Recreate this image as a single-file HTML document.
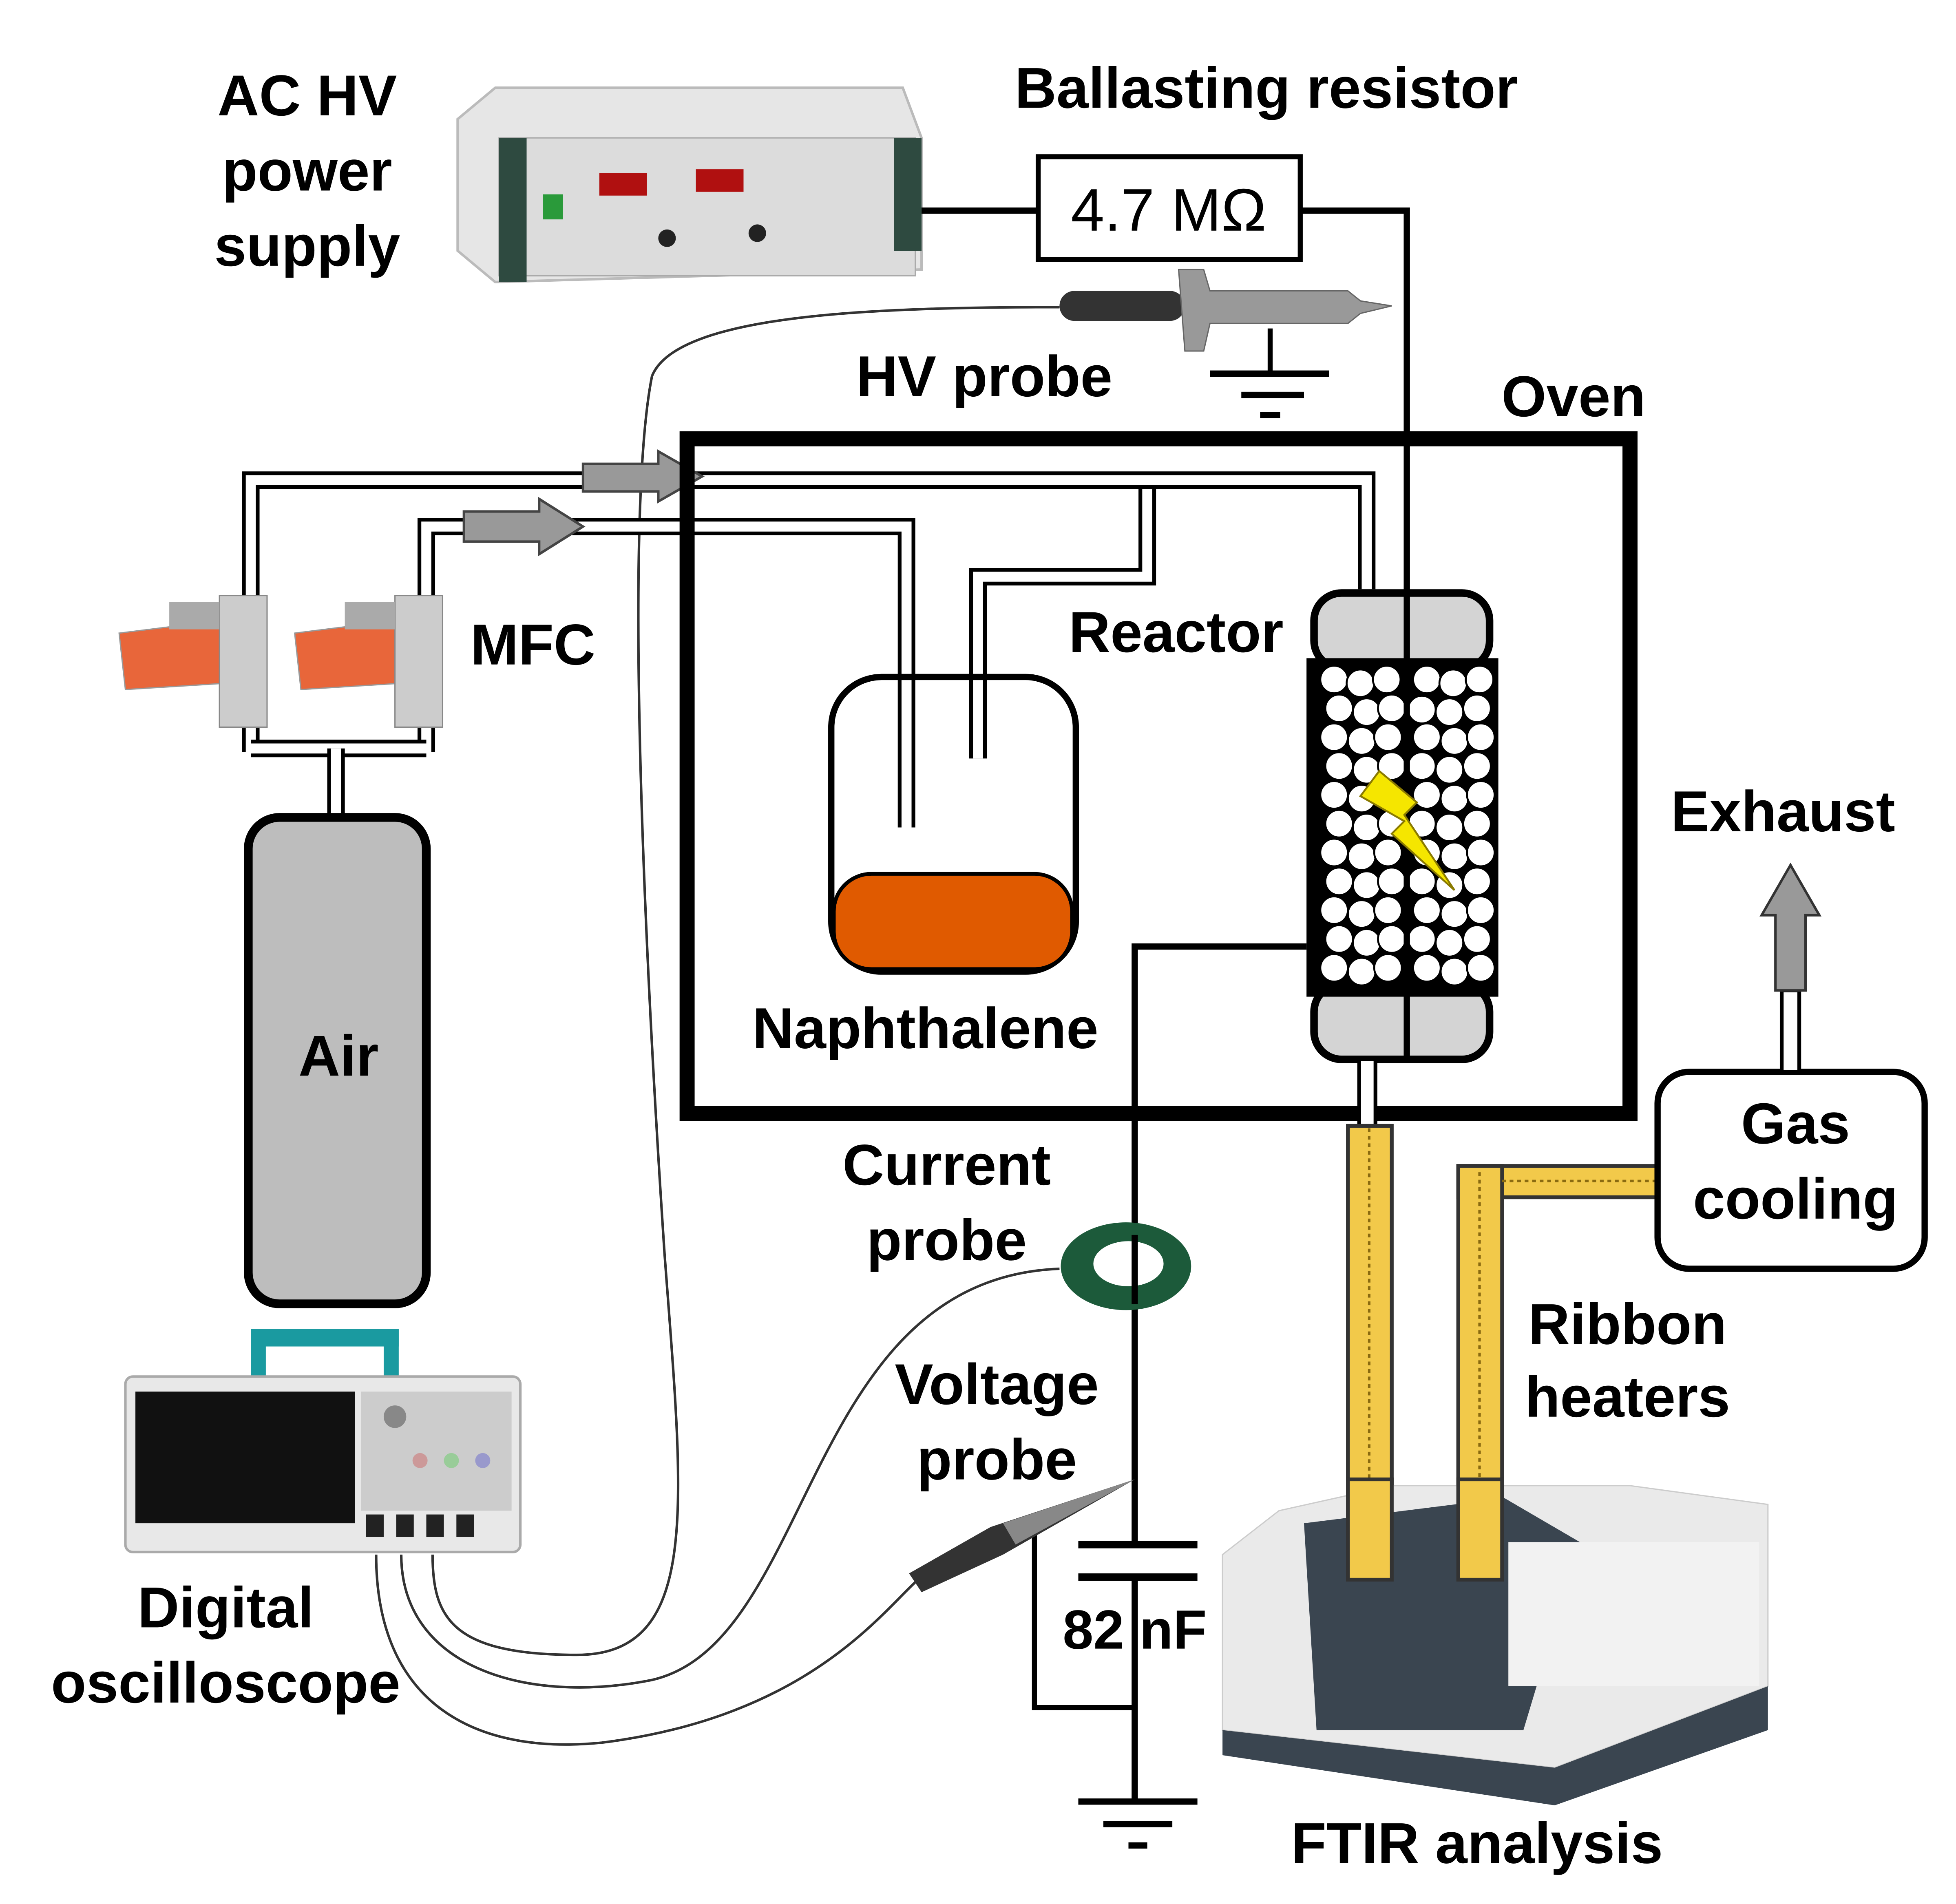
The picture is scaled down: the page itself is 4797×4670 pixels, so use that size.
<!DOCTYPE html>
<html><head><meta charset="utf-8"><style>
html,body{margin:0;padding:0;background:#fff;}
svg{display:block;}
text{font-family:"Liberation Sans",Arial,sans-serif;font-weight:bold;font-size:46px;fill:#000;text-anchor:middle;}
</style></head><body>
<svg width="4797" height="4670" viewBox="0 0 1560 1518.7" xmlns="http://www.w3.org/2000/svg">
<rect width="1560" height="1519" fill="#fff"/>
<text x="245" y="92">AC HV</text>
<text x="245" y="152">power</text>
<text x="245" y="212">supply</text>
<text x="1010" y="86">Ballasting resistor</text>
<text x="785" y="316">HV probe</text>
<text x="1255" y="332">Oven</text>
<text x="425" y="530">MFC</text>
<text x="938" y="520">Reactor</text>
<text x="738" y="836">Naphthalene</text>
<text x="1422" y="663">Exhaust</text>
<text x="755" y="945">Current</text>
<text x="755" y="1005">probe</text>
<text x="1298" y="1072">Ribbon</text>
<text x="1298" y="1130">heaters</text>
<text x="795" y="1120">Voltage</text>
<text x="795" y="1180">probe</text>
<text x="180" y="1298">Digital</text>
<text x="180" y="1358">oscilloscope</text>
<text x="1178" y="1486">FTIR analysis</text>

<polygon points="365,95 395,70 720,70 735,110 735,215 395,225 365,200" fill="#e6e6e6" stroke="#bbb" stroke-width="2"/>
<rect x="398" y="110" width="332" height="110" fill="#dcdcdc" stroke="#aaa"/>
<rect x="398" y="110" width="22" height="115" fill="#2e4a40"/>
<rect x="713" y="110" width="22" height="90" fill="#2e4a40"/>
<rect x="433" y="155" width="16" height="20" fill="#2a9a3a"/>
<rect x="478" y="138" width="38" height="18" fill="#b01010"/>
<rect x="555" y="135" width="38" height="18" fill="#b01010"/>
<circle cx="532" cy="190" r="7" fill="#222"/><circle cx="604" cy="186" r="7" fill="#222"/>
<line x1="735" y1="168" x2="828" y2="168" stroke="#000" stroke-width="5"/>
<rect x="828" y="125" width="209" height="82" fill="#fff" stroke="#000" stroke-width="4"/>
<text x="932" y="184" style="font-weight:normal;font-size:48px">4.7 MΩ</text>
<polyline points="1037,168 1122,168 1122,845" fill="none" stroke="#000" stroke-width="5"/>

<path d="M520,300 C540,250 700,245 845,245" fill="none" stroke="#333" stroke-width="2"/>
<path d="M520,300 C500,400 510,700 530,1000 C545,1200 560,1320 460,1320 C360,1320 345,1290 345,1240" fill="none" stroke="#333" stroke-width="2"/>
<rect x="845" y="232" width="100" height="24" rx="12" fill="#333"/>
<polygon points="940,215 960,215 965,232 1075,232 1085,240 1110,244 1085,250 1075,258 965,258 960,280 945,280" fill="#999" stroke="#666"/>
<line x1="1013" y1="262" x2="1013" y2="298" stroke="#000" stroke-width="4"/>
<line x1="965" y1="298" x2="1060" y2="298" stroke="#000" stroke-width="5"/>
<line x1="990" y1="315" x2="1040" y2="315" stroke="#000" stroke-width="5"/>
<line x1="1005" y1="331" x2="1021" y2="331" stroke="#000" stroke-width="5"/>

<g fill="none" stroke-linejoin="miter">
<polyline points="200,600 200,383 1090,383 1090,470" stroke="#000" stroke-width="14"/>
<polyline points="200,600 200,383 1090,383 1090,470" stroke="#fff" stroke-width="8"/>
<polyline points="340,600 340,420 723,420 723,660" stroke="#000" stroke-width="14"/>
<polyline points="340,600 340,420 723,420 723,660" stroke="#fff" stroke-width="8"/>
<polyline points="915,390 915,460 780,460 780,605" stroke="#000" stroke-width="14"/>
<polyline points="915,390 915,460 780,460 780,605" stroke="#fff" stroke-width="8"/>
<polyline points="200,597 340,597" stroke="#000" stroke-width="14"/>
<polyline points="200,597 340,597" stroke="#fff" stroke-width="8"/>
<polyline points="268,597 268,652" stroke="#000" stroke-width="14"/>
<polyline points="268,597 268,652" stroke="#fff" stroke-width="8"/>
</g>
<polygon points="465,370 525,370 525,360 560,380 525,400 525,392 465,392" fill="#999" stroke="#444" stroke-width="2"/>
<polygon points="370,408 430,408 430,398 465,420 430,442 430,432 370,432" fill="#999" stroke="#444" stroke-width="2"/>

<rect x="548" y="350" width="752" height="538" fill="none" stroke="#000" stroke-width="12"/>

<g>
<polygon points="95,505 175,495 180,545 100,550" fill="#e8663a" stroke="#999"/>
<rect x="175" y="475" width="38" height="105" fill="#ccc" stroke="#888"/>
<rect x="135" y="480" width="40" height="22" fill="#aaa"/>
<polygon points="235,505 315,495 320,545 240,550" fill="#e8663a" stroke="#999"/>
<rect x="315" y="475" width="38" height="105" fill="#ccc" stroke="#888"/>
<rect x="275" y="480" width="40" height="22" fill="#aaa"/>
</g>

<rect x="198" y="652" width="142" height="388" rx="25" fill="#bdbdbd" stroke="#000" stroke-width="7"/>
<text x="270" y="858">Air</text>

<rect x="663" y="540" width="195" height="235" rx="40" fill="none" stroke="#000" stroke-width="5"/>
<rect x="665" y="697" width="190" height="76" rx="30" fill="#e05a00" stroke="#000" stroke-width="3"/>

<rect x="1048" y="473" width="140" height="60" rx="22" fill="#d4d4d4" stroke="#000" stroke-width="6"/>
<rect x="1048" y="785" width="140" height="60" rx="22" fill="#d4d4d4" stroke="#000" stroke-width="6"/>
<rect x="1042" y="525" width="153" height="270" fill="#000"/>
<g fill="#fff" stroke="#000" stroke-width="1.5">
<circle cx="1064" cy="542" r="11"/><circle cx="1085" cy="545" r="11"/><circle cx="1106" cy="542" r="11"/><circle cx="1138" cy="542" r="11"/><circle cx="1159" cy="545" r="11"/><circle cx="1180" cy="542" r="11"/>
<circle cx="1068" cy="565" r="11"/><circle cx="1090" cy="568" r="11"/><circle cx="1110" cy="565" r="11"/><circle cx="1134" cy="566" r="11"/><circle cx="1156" cy="568" r="11"/><circle cx="1178" cy="565" r="11"/>
<circle cx="1064" cy="588" r="11"/><circle cx="1086" cy="591" r="11"/><circle cx="1107" cy="588" r="11"/><circle cx="1138" cy="588" r="11"/><circle cx="1160" cy="591" r="11"/><circle cx="1181" cy="588" r="11"/>
<circle cx="1068" cy="611" r="11"/><circle cx="1090" cy="614" r="11"/><circle cx="1110" cy="611" r="11"/><circle cx="1134" cy="611" r="11"/><circle cx="1156" cy="614" r="11"/><circle cx="1178" cy="611" r="11"/>
<circle cx="1064" cy="634" r="11"/><circle cx="1086" cy="637" r="11"/><circle cx="1107" cy="634" r="11"/><circle cx="1138" cy="634" r="11"/><circle cx="1160" cy="637" r="11"/><circle cx="1181" cy="634" r="11"/>
<circle cx="1068" cy="657" r="11"/><circle cx="1090" cy="660" r="11"/><circle cx="1110" cy="657" r="11"/><circle cx="1134" cy="657" r="11"/><circle cx="1156" cy="660" r="11"/><circle cx="1178" cy="657" r="11"/>
<circle cx="1064" cy="680" r="11"/><circle cx="1086" cy="683" r="11"/><circle cx="1107" cy="680" r="11"/><circle cx="1138" cy="680" r="11"/><circle cx="1160" cy="683" r="11"/><circle cx="1181" cy="680" r="11"/>
<circle cx="1068" cy="703" r="11"/><circle cx="1090" cy="706" r="11"/><circle cx="1110" cy="703" r="11"/><circle cx="1134" cy="703" r="11"/><circle cx="1156" cy="706" r="11"/><circle cx="1178" cy="703" r="11"/>
<circle cx="1064" cy="726" r="11"/><circle cx="1086" cy="729" r="11"/><circle cx="1107" cy="726" r="11"/><circle cx="1138" cy="726" r="11"/><circle cx="1160" cy="729" r="11"/><circle cx="1181" cy="726" r="11"/>
<circle cx="1068" cy="749" r="11"/><circle cx="1090" cy="752" r="11"/><circle cx="1110" cy="749" r="11"/><circle cx="1134" cy="749" r="11"/><circle cx="1156" cy="752" r="11"/><circle cx="1178" cy="749" r="11"/>
<circle cx="1064" cy="772" r="11"/><circle cx="1086" cy="775" r="11"/><circle cx="1107" cy="772" r="11"/><circle cx="1138" cy="772" r="11"/><circle cx="1160" cy="775" r="11"/><circle cx="1181" cy="772" r="11"/>
</g>
<line x1="1122" y1="473" x2="1122" y2="845" stroke="#000" stroke-width="5"/>
<polygon points="1100,615 1130,640 1120,650 1160,710 1110,665 1120,655 1085,635" fill="#f5e600" stroke="#8a7a00" stroke-width="1.5"/>

<polyline points="1042,755 905,755 905,1232" fill="none" stroke="#000" stroke-width="5"/>
<line x1="860" y1="1232" x2="955" y2="1232" stroke="#000" stroke-width="6"/>
<line x1="860" y1="1258" x2="955" y2="1258" stroke="#000" stroke-width="6"/>
<line x1="905" y1="1258" x2="905" y2="1437" stroke="#000" stroke-width="5"/>
<polyline points="825,1220 825,1362 905,1362" fill="none" stroke="#000" stroke-width="4"/>
<text x="905" y="1315" style="font-size:44px">82 nF</text>
<line x1="860" y1="1437" x2="955" y2="1437" stroke="#000" stroke-width="5"/>
<line x1="880" y1="1455" x2="935" y2="1455" stroke="#000" stroke-width="5"/>
<line x1="900" y1="1472" x2="915" y2="1472" stroke="#000" stroke-width="5"/>

<path d="M320,1240 C320,1330 420,1360 520,1340 C650,1310 640,1020 845,1012" fill="none" stroke="#333" stroke-width="2"/>
<ellipse cx="898" cy="1010" rx="52" ry="35" fill="#1c5a3a"/>
<ellipse cx="900" cy="1008" rx="28" ry="18" fill="#fff"/>
<line x1="905" y1="985" x2="905" y2="1040" stroke="#000" stroke-width="5"/>

<path d="M300,1240 C300,1360 380,1400 480,1390 C640,1370 700,1290 730,1262" fill="none" stroke="#333" stroke-width="2"/>
<polygon points="725,1255 790,1218 905,1180 800,1240 735,1270" fill="#333"/>
<polygon points="800,1215 905,1180 810,1232" fill="#888"/>

<rect x="200" y="1060" width="118" height="14" fill="#1a9aa0"/>
<rect x="200" y="1060" width="12" height="40" fill="#1a9aa0"/><rect x="306" y="1060" width="12" height="40" fill="#1a9aa0"/>
<rect x="100" y="1098" width="315" height="140" rx="6" fill="#e8e8e8" stroke="#aaa" stroke-width="2"/>
<rect x="108" y="1110" width="175" height="105" fill="#111"/>
<rect x="288" y="1110" width="120" height="95" fill="#ccc"/>
<g fill="#222"><rect x="292" y="1208" width="14" height="18"/><rect x="316" y="1208" width="14" height="18"/><rect x="340" y="1208" width="14" height="18"/><rect x="364" y="1208" width="14" height="18"/></g>
<circle cx="315" cy="1130" r="9" fill="#888"/><circle cx="335" cy="1165" r="6" fill="#c99"/><circle cx="360" cy="1165" r="6" fill="#9c9"/><circle cx="385" cy="1165" r="6" fill="#99c"/>

<rect x="1084" y="845" width="13" height="55" fill="#fff" stroke="#000" stroke-width="3"/>
<rect x="1075" y="898" width="35" height="362" fill="#f2c94a" stroke="#333" stroke-width="3"/>
<line x1="1092" y1="900" x2="1092" y2="1258" stroke="#8a6a10" stroke-width="2" stroke-dasharray="3,3"/>
<rect x="1163" y="930" width="160" height="25" fill="#f2c94a" stroke="#333" stroke-width="3"/>
<rect x="1163" y="930" width="35" height="330" fill="#f2c94a" stroke="#333" stroke-width="3"/>
<line x1="1180" y1="935" x2="1180" y2="1258" stroke="#8a6a10" stroke-width="2" stroke-dasharray="3,3"/>
<line x1="1198" y1="942" x2="1320" y2="942" stroke="#8a6a10" stroke-width="2" stroke-dasharray="3,3"/>

<rect x="1322" y="855" width="213" height="157" rx="25" fill="#fff" stroke="#000" stroke-width="5"/>
<text x="1432" y="912">Gas</text>
<text x="1432" y="972">cooling</text>
<rect x="1421" y="790" width="14" height="65" fill="#fff" stroke="#000" stroke-width="3"/>
<polygon points="1416,790 1416,730 1405,730 1428,690 1451,730 1440,730 1440,790" fill="#999" stroke="#333" stroke-width="2"/>

<polygon points="975,1240 1020,1205 1110,1185 1300,1185 1410,1200 1410,1345 1240,1410 975,1380" fill="#eaeaea" stroke="#ccc"/>
<polygon points="1040,1215 1200,1195 1260,1230 1215,1380 1050,1380" fill="#3a4550"/>
<polygon points="975,1380 1240,1410 1410,1345 1410,1380 1240,1440 975,1400" fill="#3a4550"/>
<rect x="1203" y="1230" width="200" height="115" fill="#f2f2f2"/>
<rect x="1075" y="1180" width="35" height="80" fill="#f2c94a" stroke="#333" stroke-width="3"/>
<rect x="1163" y="1180" width="35" height="80" fill="#f2c94a" stroke="#333" stroke-width="3"/>
</svg>
</body></html>
